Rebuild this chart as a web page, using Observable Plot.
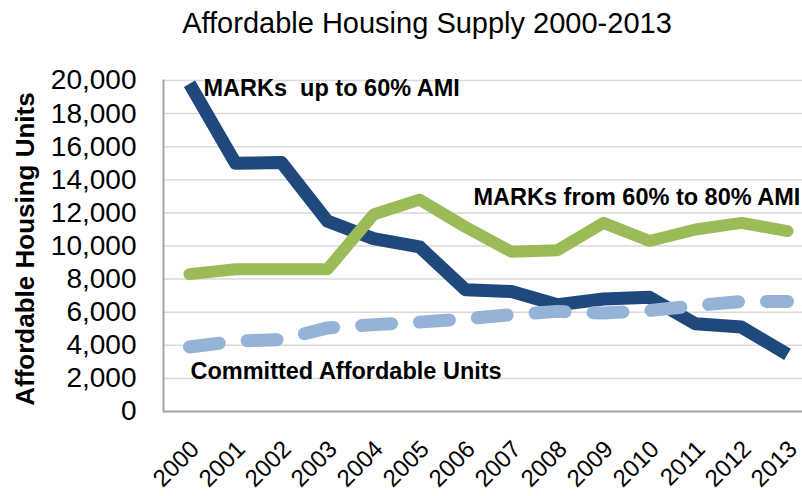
<!DOCTYPE html>
<html>
<head>
<meta charset="utf-8">
<script src="https://cdn.jsdelivr.net/npm/d3@7"></script>
<script src="https://cdn.jsdelivr.net/npm/@observablehq/plot@0.6"></script>
<style>
  html, body { margin: 0; padding: 0; background: #fff; }
  #title {
    width: 802px; height: 48px; line-height: 47px; box-sizing: border-box;
    padding-left: 52px; text-align: center;
    font-family: "Liberation Sans", Arial, sans-serif; font-size: 29px; color: #000;
  }
</style>
</head>
<body>
<div id="title">Affordable Housing Supply 2000-2013</div>
<div id="chart"></div>
<script>
const years = ["2000","2001","2002","2003","2004","2005","2006","2007","2008","2009","2010","2011","2012","2013"];
const marksUpTo60 = [19800, 15000, 15050, 11500, 10450, 9950, 7350, 7250, 6450, 6800, 6900, 5300, 5100, 3450];
const marks60to80 = [8300, 8600, 8600, 8600, 11900, 12800, 11150, 9650, 9750, 11400, 10300, 11000, 11400, 10900];
const committed = [3900, 4250, 4350, 5050, 5250, 5400, 5600, 5850, 6050, 5950, 6100, 6400, 6650, 6650];
const yTicks = [0, 2000, 4000, 6000, 8000, 10000, 12000, 14000, 16000, 18000, 20000];
const seriesNames = ["MARKs  up to 60% AMI", "MARKs from 60% to 80% AMI", "Committed Affordable Units"];
const yLabel = "Affordable Housing Units";

const font = "'Liberation Sans', Arial, sans-serif";
const toRows = (vals) => years.map((y, i) => ({year: y, value: vals[i]}));

const chart = Plot.plot({
  width: 802,
  height: 448,
  marginLeft: 163,
  marginRight: 0,
  marginTop: 32,
  marginBottom: 85,
  style: {fontFamily: font, background: "white", overflow: "visible", color: "#000"},
  x: {type: "point", domain: years, range: [186, 790], padding: 0, axis: null},
  y: {domain: [0, 20000], axis: null},
  marks: [
    Plot.gridY(yTicks, {stroke: "#d9d9d9", strokeOpacity: 1, strokeWidth: 1.5}),
    Plot.frame({anchor: "left", stroke: "#a6a6a6", strokeWidth: 2}),
    Plot.ruleY([0], {stroke: "#a6a6a6", strokeWidth: 2}),
    Plot.axisY({ticks: yTicks, tickFormat: d3.format(","), tickSize: 0, tickPadding: 27, fontSize: 28, label: null}),
    Plot.text(years, {x: d => d, frameAnchor: "bottom", rotate: -45, textAnchor: "end", lineAnchor: "top", dx: -1, dy: 27, fontSize: 24}),
    Plot.text([yLabel], {frameAnchor: "left", rotate: -90, dx: -138, dy: 3, fontSize: 26, fontWeight: "bold", textAnchor: "middle", lineAnchor: "middle"}),
    Plot.line(toRows(marksUpTo60), {x: "year", y: "value", stroke: "#1f497d", strokeWidth: 13, strokeLinejoin: "round", strokeLinecap: "butt"}),
    Plot.line(toRows(marks60to80), {x: "year", y: "value", stroke: "#9bbb59", strokeWidth: 12, strokeLinejoin: "round", strokeLinecap: "round"}),
    Plot.line(toRows(committed), {x: "year", y: "value", stroke: "#95b3d7", strokeWidth: 13, strokeLinejoin: "round", strokeLinecap: "round", strokeDasharray: "30,28"}),
    Plot.text([seriesNames[0]], {x: () => "2000", y: () => 20000, text: d => d, dx: 14, dy: 7.5, textAnchor: "start", lineAnchor: "middle", fontSize: 23.5, fontWeight: "bold"}),
    Plot.text([seriesNames[1]], {x: () => "2006", y: () => 12000, text: d => d, dx: 8, dy: -15, textAnchor: "start", lineAnchor: "middle", fontSize: 23.5, fontWeight: "bold"}),
    Plot.text([seriesNames[2]], {x: () => "2000", y: () => 2000, text: d => d, dx: 1, dy: -6.5, textAnchor: "start", lineAnchor: "middle", fontSize: 23.5, fontWeight: "bold"})
  ]
});
document.getElementById("chart").appendChild(chart);
</script>
</body>
</html>
